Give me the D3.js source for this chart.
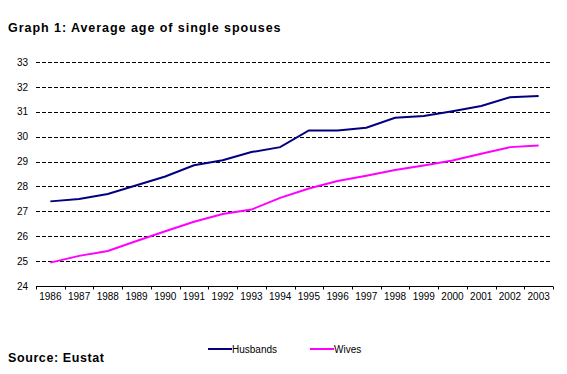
<!DOCTYPE html>
<html>
<head>
<meta charset="utf-8">
<script src="https://cdn.jsdelivr.net/npm/d3@7"></script>
<style>
  body { margin: 0; background: #fff; }
  text { font-family: "Liberation Sans", Arial, sans-serif; fill: #000; }
</style>
</head>
<body>
<div id="chart"></div>
<script>
'use strict';

// data
var years = ['1986', '1987', '1988', '1989', '1990', '1991', '1992', '1993', '1994',
             '1995', '1996', '1997', '1998', '1999', '2000', '2001', '2002', '2003'];
var husbands = [27.40, 27.50, 27.70, 28.05, 28.40, 28.85, 29.05, 29.38, 29.58,
                30.25, 30.25, 30.36, 30.76, 30.83, 31.02, 31.23, 31.58, 31.63];
var wives = [24.94, 25.21, 25.41, 25.81, 26.20, 26.58, 26.89, 27.07, 27.54,
             27.92, 28.22, 28.43, 28.66, 28.84, 29.04, 29.31, 29.58, 29.65];
var yTicks = [24, 25, 26, 27, 28, 29, 30, 31, 32, 33];

var width = 567, height = 374;
var husColor = '#000080', wifColor = '#ff00ff';

var svg = d3.select('#chart').append('svg')
    .attr('width', width)
    .attr('height', height);

// scales
var x = d3.scaleBand().domain(years).range([36, 553]).padding(0);
var y = d3.scaleLinear().domain([24, 33]).range([286, 62]);

// title
svg.append('text')
    .attr('x', 8).attr('y', 32)
    .style('font-size', '12.5px').style('font-weight', 'bold')
    .style('letter-spacing', '0.95px')
    .text('Graph 1: Average age of single spouses');

// dashed gridlines
svg.append('g').selectAll('line')
    .data(yTicks.slice(1))
    .enter().append('line')
    .attr('x1', 36).attr('x2', 550)
    .attr('y1', function(d) { return Math.round(y(d)) + 0.5; })
    .attr('y2', function(d) { return Math.round(y(d)) + 0.5; })
    .style('stroke', '#000')
    .style('stroke-width', 1)
    .style('stroke-dasharray', '4,2');

// y axis labels
var yAxis = d3.axisLeft(y).tickValues(yTicks).tickSize(0).tickPadding(8);
svg.append('g')
    .attr('transform', 'translate(36,0)')
    .call(yAxis)
    .call(function(g) { g.select('.domain').remove(); })
    .selectAll('text')
    .style('font-size', '10px')
    .style('font-family', '"Liberation Sans", Arial, sans-serif');

// x axis line and tick marks at category boundaries
var baseY = Math.round(y(24)) + 0.5;
svg.append('line')
    .attr('x1', 36).attr('x2', 553)
    .attr('y1', baseY).attr('y2', baseY)
    .style('stroke', '#000');

var edges = years.map(function(d) { return x(d); }).concat([x.range()[1]]);
svg.append('g').selectAll('line')
    .data(edges)
    .enter().append('line')
    .attr('x1', function(d) { return Math.round(d) + 0.5; })
    .attr('x2', function(d) { return Math.round(d) + 0.5; })
    .attr('y1', baseY).attr('y2', baseY + 3)
    .style('stroke', '#000');

// year labels
var xAxis = d3.axisBottom(x).tickSize(0).tickPadding(6);
svg.append('g')
    .attr('transform', 'translate(0,' + baseY + ')')
    .call(xAxis)
    .call(function(g) { g.select('.domain').remove(); })
    .selectAll('text')
    .style('font-size', '10px')
    .style('font-family', '"Liberation Sans", Arial, sans-serif');

// lines
var line = d3.line()
    .x(function(d, i) { return x(years[i]) + x.bandwidth() / 2; })
    .y(function(d) { return y(d); });

svg.append('path')
    .datum(husbands)
    .attr('d', line)
    .style('fill', 'none')
    .style('stroke', husColor)
    .style('stroke-width', 2);

svg.append('path')
    .datum(wives)
    .attr('d', line)
    .style('fill', 'none')
    .style('stroke', wifColor)
    .style('stroke-width', 2);

// legend
var legendItems = [
    { name: 'Husbands', color: husColor, x: 208 },
    { name: 'Wives', color: wifColor, x: 310 }
];
var lg = svg.append('g').selectAll('g')
    .data(legendItems)
    .enter().append('g')
    .attr('transform', function(d) { return 'translate(' + d.x + ',349)'; });

lg.append('line')
    .attr('x1', 0).attr('x2', 24)
    .attr('y1', 0).attr('y2', 0)
    .style('stroke', function(d) { return d.color; })
    .style('stroke-width', 2);

lg.append('text')
    .attr('x', 24).attr('y', 4)
    .style('font-size', '10px')
    .text(function(d) { return d.name; });

// source
svg.append('text')
    .attr('x', 8).attr('y', 362)
    .style('font-size', '12.5px').style('font-weight', 'bold')
    .style('letter-spacing', '0.6px')
    .text('Source: Eustat');
</script>
</body>
</html>
